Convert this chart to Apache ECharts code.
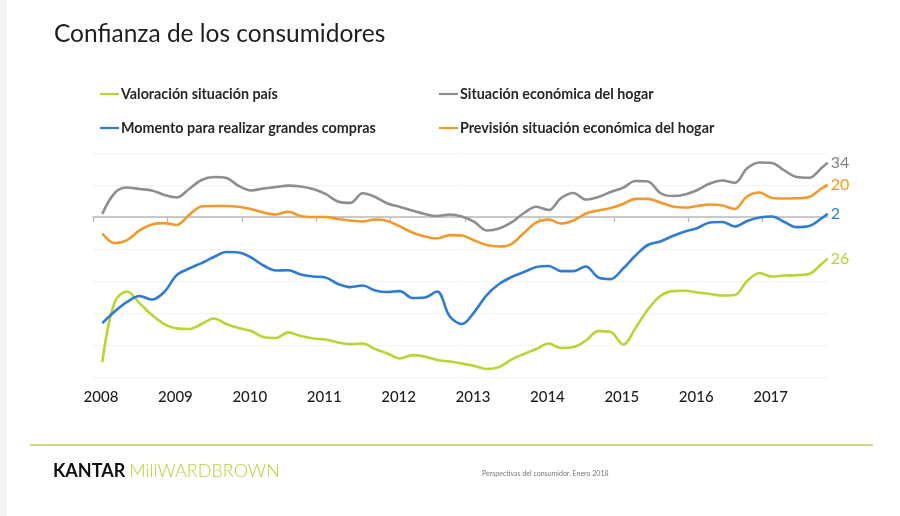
<!DOCTYPE html>
<html>
<head>
<meta charset="utf-8">
<script src="https://cdn.jsdelivr.net/npm/echarts@6/dist/echarts.min.js"></script>
<style>
  html, body { margin: 0; padding: 0; background: #ffffff; }
  #chart { width: 900px; height: 516px; }
</style>
</head>
<body>
<div id="chart"></div>
<script>
// ---- Data ----
const titleText = 'Confianza de los consumidores';
const seriesNames = [
  'Valoración situación país',
  'Momento para realizar grandes compras',
  'Situación económica del hogar',
  'Previsión situación económica del hogar'
];
const years = [2008, 2009, 2010, 2011, 2012, 2013, 2014, 2015, 2016, 2017];
const dates = [
  '2008-02','2008-04','2008-06','2008-08','2008-10','2008-12',
  '2009-02','2009-04','2009-06','2009-08','2009-10','2009-12',
  '2010-02','2010-04','2010-06','2010-08','2010-10','2010-12',
  '2011-02','2011-04','2011-06','2011-08','2011-10','2011-12',
  '2012-02','2012-04','2012-06','2012-08','2012-10','2012-12',
  '2013-02','2013-04','2013-06','2013-08','2013-10','2013-12',
  '2014-02','2014-04','2014-06','2014-08','2014-10','2014-12',
  '2015-02','2015-04','2015-06','2015-08','2015-10','2015-12',
  '2016-02','2016-04','2016-06','2016-08','2016-10','2016-12',
  '2017-02','2017-04','2017-06','2017-08','2017-10','2017-11'
];
const valoracionPais = [
  -90.6, -53.1, -46.6, -53.8, -61.3, -66.9,
  -69.6, -70.0, -66.9, -63.4, -66.9, -69.4,
  -71.3, -75.0, -75.6, -72.1, -74.4, -75.9,
  -76.6, -78.4, -79.4, -79.1, -82.5, -85.3,
  -88.4, -86.3, -87.2, -89.4, -90.3, -91.6,
  -93.1, -95.0, -93.8, -89.1, -85.6, -82.5,
  -79.1, -81.9, -81.3, -77.2, -71.3, -71.9,
  -79.7, -69.4, -57.8, -49.4, -46.3, -46.1,
  -47.2, -48.1, -49.1, -48.8, -40.0, -35.0,
  -37.2, -36.6, -36.3, -35.6, -29.4, -26
];
const grandesCompras = [
  -66.3, -59.1, -53.1, -49.4, -51.6, -46.9,
  -36.3, -32.2, -28.8, -25.0, -21.9, -22.2,
  -25.3, -30.3, -33.4, -33.3, -35.9, -37.2,
  -37.8, -41.9, -43.8, -42.8, -45.9, -46.9,
  -46.3, -50.6, -50.3, -46.6, -61.9, -66.9,
  -59.4, -48.8, -41.9, -37.5, -34.4, -31.3,
  -30.6, -33.8, -33.8, -30.9, -37.8, -38.8,
  -32.2, -24.1, -17.5, -15.3, -11.9, -9.1,
  -6.9, -3.4, -3.1, -5.9, -2.5, -0.3,
  0.3, -3.1, -6.3, -5.6, -0.9, 2
];
const situacionHogar = [
  1.9, 15.0, 18.4, 17.5, 16.6, 13.8,
  12.2, 17.5, 23.1, 25.0, 24.4, 19.4,
  16.6, 17.8, 18.8, 19.6, 19.1, 17.5,
  14.4, 9.7, 8.8, 14.8, 12.5, 8.4,
  6.3, 4.1, 1.9, 0.6, 1.6, 0.3,
  -3.1, -8.4, -7.2, -3.4, 2.5, 6.4,
  4.4, 11.9, 15.0, 10.9, 12.5, 15.6,
  18.3, 22.5, 22.2, 15.0, 13.1, 14.1,
  16.9, 20.9, 22.8, 21.3, 30.4, 34.1,
  33.8, 29.1, 25.0, 24.5, 30.6, 34
];
const previsionHogar = [
  -10.3, -16.3, -14.4, -8.4, -4.7, -3.8,
  -5.0, 1.3, 6.6, 6.9, 6.9, 6.4,
  5.0, 2.8, 1.6, 3.3, 0.6, 0.0,
  0.0, -1.3, -2.2, -2.8, -1.6, -2.5,
  -5.9, -9.7, -12.2, -13.4, -11.3, -11.6,
  -14.7, -17.5, -18.4, -16.9, -10.0, -3.4,
  -1.6, -4.1, -2.2, 2.2, 4.1, 5.6,
  8.1, 11.3, 11.3, 9.1, 6.6, 5.9,
  6.9, 7.8, 7.2, 5.0, 12.8, 15.3,
  11.9, 11.6, 11.7, 12.5, 17.8, 20
];
const footerLogoA = 'KANTAR';
const footerLogoB = 'MillWARDBROWN';
const footerNote = 'Perspectivas del consumidor. Enero 2018';

// ---- Build ----
const FONT = 'Lato, "Open Sans", sans-serif';
const colors = ['#b8d435', '#2f7bd2', '#8e8e8e', '#f2992e'];
const labelColors = ['#b8d435', '#2f7bd2', '#7f7f7f', '#f2992e'];
const allValues = [valoracionPais, grandesCompras, situacionHogar, previsionHogar];

function toYear(d) {
  const p = d.split('-').map(Number);
  return p[0] + (p[1] - 0.5) / 12;
}
const xs = dates.map(toYear);
const xMax = xs[xs.length - 1];

const series = seriesNames.map((name, k) => ({
  name: name,
  type: 'line',
  smooth: 0.35,
  showSymbol: false,
  symbol: 'none',
  data: xs.map((x, i) => [x, allValues[k][i]]),
  lineStyle: { width: 2.6, color: colors[k] },
  itemStyle: { color: colors[k] },
  z: 3 + k,
  endLabel: {
    show: true,
    distance: 3,
    fontFamily: FONT,
    fontSize: 16,
    color: labelColors[k],
    formatter: p => String(Math.abs(Math.round(p.value[1])))
  }
}));

const legendBase = {
  orient: 'vertical',
  top: 87,
  padding: 0,
  itemGap: 20,
  itemWidth: 19,
  itemHeight: 2.2,
  icon: 'rect',
  selectedMode: false,
  textStyle: { fontFamily: FONT, fontSize: 14.3, fontWeight: 'bold', color: '#262626', padding: [0, 0, 0, -3] }
};

const chart = echarts.init(document.getElementById('chart'), null, { renderer: 'canvas' });
chart.setOption({
  backgroundColor: '#ffffff',
  animation: false,
  title: {
    text: titleText,
    left: 54,
    top: 22,
    padding: 0,
    textStyle: { fontFamily: FONT, fontSize: 24.5, fontWeight: 'normal', color: '#1e1e1e' }
  },
  legend: [
    Object.assign({}, legendBase, { left: 100, data: [seriesNames[0], seriesNames[1]] }),
    Object.assign({}, legendBase, { left: 439, data: [seriesNames[2], seriesNames[3]] })
  ],
  grid: { left: 93, right: 900 - 93 - (xMax - 2008) * 74.4, top: 153, height: 224, containLabel: false },
  xAxis: [
    {
      type: 'value',
      min: 2008,
      max: xMax,
      interval: 1,
      axisLine: { show: false },
      axisTick: { show: false },
      splitLine: { show: false },
      axisLabel: {
        customValues: years,
        formatter: v => String(Math.round(v)),
        fontFamily: FONT,
        fontSize: 15,
        fontWeight: 500,
        color: '#1e1e1e',
        margin: 13,
        padding: [0, 0, 0, 16]
      }
    },
    {
      type: 'value',
      min: 2008,
      max: xMax,
      interval: 1,
      position: 'bottom',
      axisLine: { show: true, onZero: true, onZeroAxisIndex: 0, lineStyle: { color: '#b9b9b9', width: 1.6 } },
      axisTick: { show: true, customValues: years, length: 5, lineStyle: { color: '#b9b9b9', width: 1.2 } },
      axisLabel: { show: false },
      splitLine: { show: false }
    }
  ],
  yAxis: {
    type: 'value',
    min: -100,
    max: 40,
    interval: 20,
    axisLine: { show: false },
    axisTick: { show: false },
    axisLabel: { show: false },
    splitLine: { show: true, lineStyle: { color: '#f3f3f3', width: 1 } }
  },
  series: series,
  graphic: [
    {
      type: 'rect',
      left: 0, top: 0,
      shape: { width: 7, height: 516 },
      style: { fill: '#f3f3f3' },
      silent: true
    },
    {
      type: 'line',
      shape: { x1: 30, y1: 445, x2: 873, y2: 445 },
      style: { stroke: '#d2d58a', lineWidth: 2 },
      silent: true
    },
    {
      type: 'text',
      left: 53,
      top: 462,
      style: {
        text: '{a|' + footerLogoA + '}{b|' + footerLogoB + '}',
        rich: {
          a: { fontFamily: FONT, fontSize: 18, fontWeight: 'bold', fill: '#111', lineHeight: 20 },
          b: { fontFamily: FONT, fontSize: 18, fontWeight: 300, fill: '#b6d235', lineHeight: 20, padding: [0, 0, 0, 4] }
        }
      },
      silent: true
    },
    {
      type: 'text',
      left: 482,
      top: 470,
      style: { text: footerNote, fontFamily: FONT, fontSize: 7, fill: '#777' },
      silent: true
    }
  ]
});
</script>
</body>
</html>
